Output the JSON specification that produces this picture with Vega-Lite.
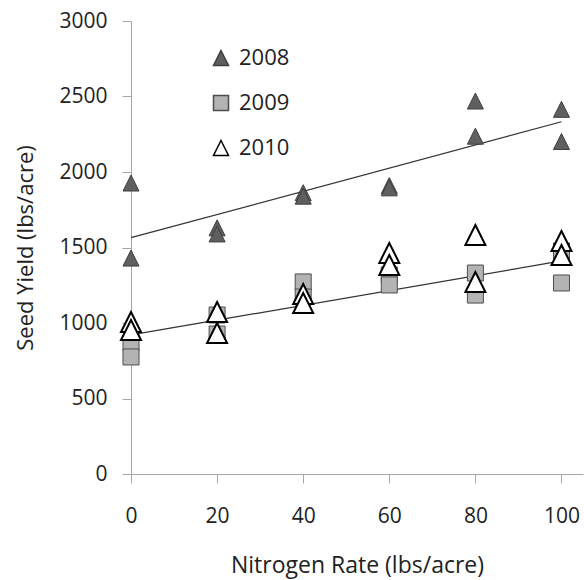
{
  "$schema": "https://vega.github.io/schema/vega-lite/v6.json",
  "width": 452,
  "height": 453,
  "autosize": {"type": "none"},
  "padding": {"left": 131, "top": 21, "right": 1, "bottom": 106},
  "background": "white",
  "config": {"view": {"stroke": null}, "font": "Open Sans"},
  "datasets": {
    "points": [
      {"year": "2008", "rate": 0, "yield": 1927},
      {"year": "2008", "rate": 0, "yield": 1430},
      {"year": "2008", "rate": 20, "yield": 1630},
      {"year": "2008", "rate": 20, "yield": 1590},
      {"year": "2008", "rate": 40, "yield": 1863},
      {"year": "2008", "rate": 40, "yield": 1840},
      {"year": "2008", "rate": 60, "yield": 1910},
      {"year": "2008", "rate": 60, "yield": 1895},
      {"year": "2008", "rate": 80, "yield": 2470},
      {"year": "2008", "rate": 80, "yield": 2237},
      {"year": "2008", "rate": 100, "yield": 2415},
      {"year": "2008", "rate": 100, "yield": 2202},
      {"year": "2009", "rate": 0, "yield": 868},
      {"year": "2009", "rate": 0, "yield": 775},
      {"year": "2009", "rate": 20, "yield": 1053},
      {"year": "2009", "rate": 20, "yield": 927},
      {"year": "2009", "rate": 40, "yield": 1272},
      {"year": "2009", "rate": 40, "yield": 1172},
      {"year": "2009", "rate": 60, "yield": 1318},
      {"year": "2009", "rate": 60, "yield": 1252},
      {"year": "2009", "rate": 80, "yield": 1331},
      {"year": "2009", "rate": 80, "yield": 1185},
      {"year": "2009", "rate": 100, "yield": 1477},
      {"year": "2009", "rate": 100, "yield": 1265},
      {"year": "2010", "rate": 0, "yield": 1007},
      {"year": "2010", "rate": 0, "yield": 954},
      {"year": "2010", "rate": 20, "yield": 1073},
      {"year": "2010", "rate": 20, "yield": 934},
      {"year": "2010", "rate": 40, "yield": 1192},
      {"year": "2010", "rate": 40, "yield": 1132},
      {"year": "2010", "rate": 60, "yield": 1464},
      {"year": "2010", "rate": 60, "yield": 1384},
      {"year": "2010", "rate": 80, "yield": 1583},
      {"year": "2010", "rate": 80, "yield": 1272},
      {"year": "2010", "rate": 100, "yield": 1543},
      {"year": "2010", "rate": 100, "yield": 1450}
    ],
    "trend": [
      {"fit": "2008", "rate": 0, "yield": 1565},
      {"fit": "2008", "rate": 100, "yield": 2333},
      {"fit": "2009-2010", "rate": 0, "yield": 921},
      {"fit": "2009-2010", "rate": 100, "yield": 1411}
    ]
  },
  "layer": [
    {
      "data": {"name": "trend"},
      "mark": {"type": "line", "color": "#333333", "strokeWidth": 1.2},
      "encoding": {
        "x": {"field": "rate", "type": "quantitative", "scale": {"domain": [0, 105]}},
        "y": {"field": "yield", "type": "quantitative", "scale": {"domain": [0, 3000]}},
        "detail": {"field": "fit", "type": "nominal"}
      }
    },
    {
      "data": {"name": "points"},
      "mark": {"type": "point", "filled": true, "opacity": 1},
      "encoding": {
        "x": {
          "field": "rate", "type": "quantitative",
          "scale": {"domain": [0, 105]},
          "axis": {
            "values": [0, 20, 40, 60, 80, 100],
            "grid": false,
            "domainColor": "#a6a6a6",
            "tickColor": "#a6a6a6",
            "tickSize": 9,
            "labelFontSize": 21,
            "labelColor": "#222222",
            "labelPadding": 22,
            "labelFlush": false,
            "labelOverlap": false,
            "title": "Nitrogen Rate (lbs/acre)",
            "titleFontSize": 23,
            "titleFontWeight": "normal",
            "titleColor": "#222222",
            "titleBaseline": "top",
            "titleY": 80
          }
        },
        "y": {
          "field": "yield", "type": "quantitative",
          "scale": {"domain": [0, 3000]},
          "axis": {
            "values": [0, 500, 1000, 1500, 2000, 2500, 3000],
            "format": "d",
            "grid": false,
            "domainColor": "#a6a6a6",
            "tickColor": "#a6a6a6",
            "tickSize": 9,
            "labelFontSize": 21,
            "labelColor": "#222222",
            "labelPadding": 15,
            "labelFlush": false,
            "labelOverlap": false,
            "title": "Seed Yield (lbs/acre)",
            "titleFontSize": 22,
            "titleFontWeight": "normal",
            "titleColor": "#222222",
            "titleAngle": 270,
            "titleBaseline": "top",
            "titleAlign": "center",
            "titleX": -116,
            "titleY": 226.5
          }
        },
        "shape": {
          "field": "year", "type": "nominal",
          "scale": {"domain": ["2008", "2009", "2010"], "range": ["M0,-1L1,1L-1,1Z", "square", "M0,-1L1,1L-1,1Z"]},
          "legend": {
            "title": null,
            "orient": "none",
            "legendX": 79,
            "legendY": 26,
            "padding": 0,
            "labelFontSize": 22,
            "labelColor": "#222222",
            "labelOffset": 7,
            "rowPadding": 23,
            "symbolSize": 225,
            "encode": {"symbols": {"update": {"strokeWidth": {"signal": "datum.value === '2010' ? 2 : 1"}}}}
          }
        },
        "fill": {
          "field": "year", "type": "nominal",
          "scale": {"domain": ["2008", "2009", "2010"], "range": ["#5f5f5f", "#b3b3b3", "#ffffff"]}
        },
        "stroke": {
          "field": "year", "type": "nominal",
          "scale": {"domain": ["2008", "2009", "2010"], "range": ["#3f3f3f", "#4d4d4d", "#000000"]}
        },
        "size": {"condition": {"test": "datum.year === '2010'", "value": 400}, "value": 256},
        "strokeWidth": {"condition": {"test": "datum.year === '2010'", "value": 2}, "value": 1}
      }
    }
  ]
}
